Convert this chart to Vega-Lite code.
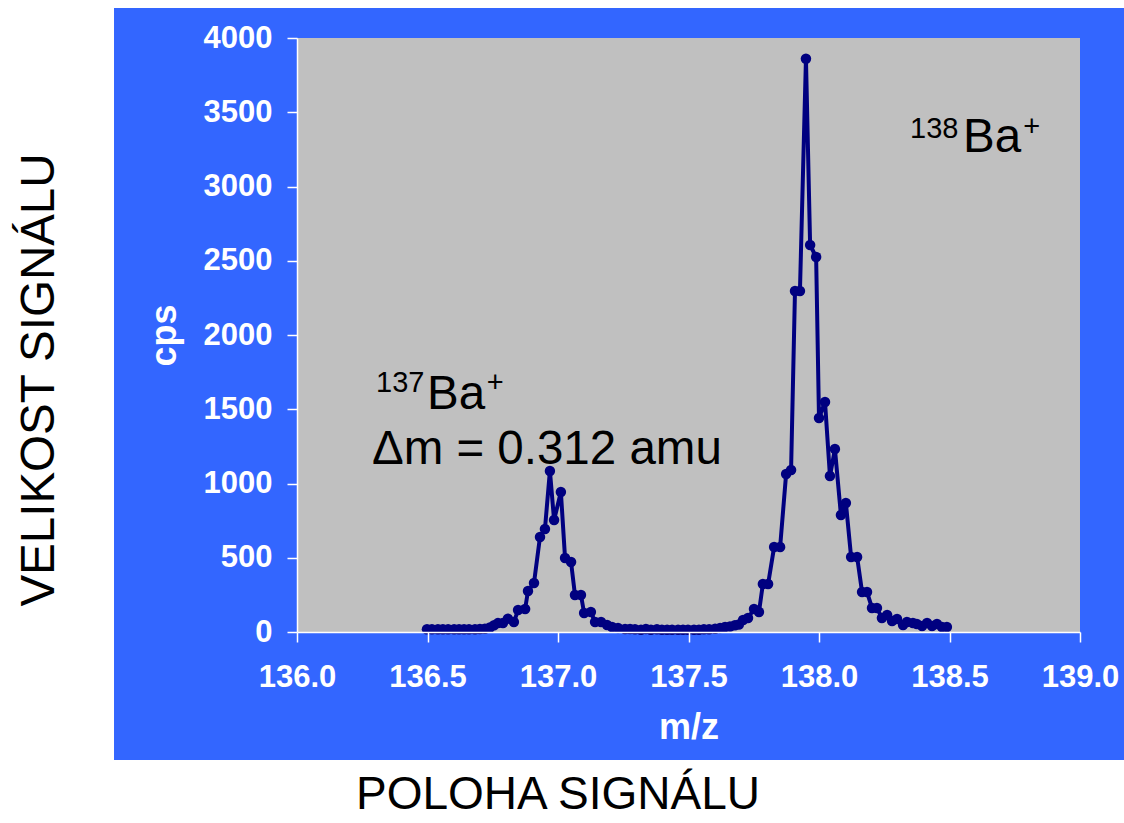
{
  "$schema": "https://vega.github.io/schema/vega-lite/v6.json",
  "width": 783,
  "height": 594,
  "autosize": {"type": "none"},
  "padding": {"left": 297, "top": 38, "right": 44, "bottom": 191},
  "background": "white",
  "config": {
    "view": {"stroke": null},
    "font": "Liberation Sans",
    "axis": {
      "domainColor": "white",
      "domainWidth": 1.5,
      "tickColor": "white",
      "tickWidth": 1.5,
      "tickSize": 10,
      "grid": false,
      "labelColor": "white",
      "labelFont": "Liberation Sans",
      "labelFontWeight": "bold",
      "labelFontSize": 31,
      "titleColor": "white",
      "titleFont": "Liberation Sans",
      "titleFontWeight": "bold",
      "titleFontSize": 36
    },
    "axisX": {"labelPadding": 20, "titlePadding": 18, "labelFlush": false},
    "axisY": {"labelPadding": 15, "titlePadding": 20, "labelFlush": false}
  },
  "datasets": {
    "blue": [{"x0": 135.2989, "x1": 139.1686, "y0": -862, "y1": 4202}],
    "grey": [{"x0": 136, "x1": 139, "y0": 0, "y1": 4000}],
    "big": [
      {"label": "Ba", "mz": 136.498, "cps": 1596},
      {"label": "Ba", "mz": 138.552, "cps": 3327},
      {"label": "Δm = 0.312 amu", "mz": 136.287, "cps": 1226}
    ],
    "sup": [
      {"label": "137", "mz": 136.303, "cps": 1680},
      {"label": "+", "mz": 136.727, "cps": 1680},
      {"label": "138", "mz": 138.349, "cps": 3390},
      {"label": "+", "mz": 138.783, "cps": 3400}
    ],
    "outerV": [{"label": "VELIKOST SIGNÁLU", "mz": 135.015, "cps": 1697}],
    "outerH": [{"label": "POLOHA SIGNÁLU", "mz": 137.0, "cps": -1100}],
    "scan": [
      {"mz": 136.498, "cps": 18}, {"mz": 136.517, "cps": 18}, {"mz": 136.540, "cps": 18},
      {"mz": 136.559, "cps": 18}, {"mz": 136.579, "cps": 18}, {"mz": 136.602, "cps": 18},
      {"mz": 136.621, "cps": 18}, {"mz": 136.640, "cps": 18}, {"mz": 136.659, "cps": 18},
      {"mz": 136.682, "cps": 18}, {"mz": 136.701, "cps": 20}, {"mz": 136.720, "cps": 22},
      {"mz": 136.739, "cps": 30}, {"mz": 136.755, "cps": 45}, {"mz": 136.770, "cps": 60},
      {"mz": 136.789, "cps": 60}, {"mz": 136.808, "cps": 90}, {"mz": 136.831, "cps": 67},
      {"mz": 136.847, "cps": 148}, {"mz": 136.874, "cps": 155}, {"mz": 136.885, "cps": 276},
      {"mz": 136.908, "cps": 330}, {"mz": 136.931, "cps": 640}, {"mz": 136.950, "cps": 694},
      {"mz": 136.969, "cps": 1084}, {"mz": 136.985, "cps": 754}, {"mz": 137.011, "cps": 943},
      {"mz": 137.027, "cps": 498}, {"mz": 137.050, "cps": 471}, {"mz": 137.065, "cps": 249},
      {"mz": 137.088, "cps": 249}, {"mz": 137.100, "cps": 128}, {"mz": 137.126, "cps": 135},
      {"mz": 137.142, "cps": 67}, {"mz": 137.165, "cps": 67}, {"mz": 137.188, "cps": 47},
      {"mz": 137.207, "cps": 34}, {"mz": 137.230, "cps": 27}, {"mz": 137.257, "cps": 20},
      {"mz": 137.276, "cps": 20}, {"mz": 137.295, "cps": 18}, {"mz": 137.318, "cps": 15},
      {"mz": 137.337, "cps": 20}, {"mz": 137.356, "cps": 15}, {"mz": 137.379, "cps": 18},
      {"mz": 137.398, "cps": 15}, {"mz": 137.418, "cps": 15}, {"mz": 137.437, "cps": 15},
      {"mz": 137.460, "cps": 15}, {"mz": 137.479, "cps": 15}, {"mz": 137.498, "cps": 15},
      {"mz": 137.521, "cps": 15}, {"mz": 137.540, "cps": 15}, {"mz": 137.559, "cps": 18},
      {"mz": 137.579, "cps": 18}, {"mz": 137.602, "cps": 22}, {"mz": 137.621, "cps": 27},
      {"mz": 137.640, "cps": 34}, {"mz": 137.659, "cps": 37}, {"mz": 137.678, "cps": 45},
      {"mz": 137.693, "cps": 50}, {"mz": 137.709, "cps": 81}, {"mz": 137.728, "cps": 94},
      {"mz": 137.751, "cps": 155}, {"mz": 137.770, "cps": 135}, {"mz": 137.785, "cps": 323},
      {"mz": 137.805, "cps": 323}, {"mz": 137.828, "cps": 572}, {"mz": 137.851, "cps": 572},
      {"mz": 137.874, "cps": 1064}, {"mz": 137.893, "cps": 1091}, {"mz": 137.908, "cps": 2296},
      {"mz": 137.927, "cps": 2296}, {"mz": 137.950, "cps": 3860}, {"mz": 137.966, "cps": 2606},
      {"mz": 137.989, "cps": 2525}, {"mz": 138.000, "cps": 1441}, {"mz": 138.023, "cps": 1549},
      {"mz": 138.042, "cps": 1050}, {"mz": 138.061, "cps": 1232}, {"mz": 138.084, "cps": 788},
      {"mz": 138.103, "cps": 869}, {"mz": 138.123, "cps": 505}, {"mz": 138.146, "cps": 505},
      {"mz": 138.165, "cps": 269}, {"mz": 138.184, "cps": 269}, {"mz": 138.203, "cps": 162},
      {"mz": 138.222, "cps": 162}, {"mz": 138.241, "cps": 94}, {"mz": 138.261, "cps": 114},
      {"mz": 138.280, "cps": 74}, {"mz": 138.299, "cps": 88}, {"mz": 138.322, "cps": 47},
      {"mz": 138.337, "cps": 67}, {"mz": 138.360, "cps": 61}, {"mz": 138.375, "cps": 54},
      {"mz": 138.395, "cps": 40}, {"mz": 138.414, "cps": 61}, {"mz": 138.433, "cps": 40},
      {"mz": 138.452, "cps": 54}, {"mz": 138.471, "cps": 34}, {"mz": 138.490, "cps": 34}
    ]
  },
  "layer": [
    {
      "data": {"name": "blue"},
      "mark": {"type": "rect", "color": "#3366FF", "clip": false},
      "encoding": {
        "x": {"field": "x0", "type": "quantitative", "title": "m/z",
              "scale": {"domain": [136, 139], "nice": false, "zero": false},
              "axis": {"zindex": 2, "values": [136, 136.5, 137, 137.5, 138, 138.5, 139], "format": ".1f"}},
        "x2": {"field": "x1"},
        "y": {"field": "y0", "type": "quantitative", "title": "cps",
              "scale": {"domain": [0, 4000], "nice": false},
              "axis": {"zindex": 2, "values": [0, 500, 1000, 1500, 2000, 2500, 3000, 3500, 4000], "format": "d"}},
        "y2": {"field": "y1"}
      }
    },
    {
      "data": {"name": "grey"},
      "mark": {"type": "rect", "color": "#C0C0C0"},
      "encoding": {
        "x": {"field": "x0", "type": "quantitative", "title": "m/z"},
        "x2": {"field": "x1"},
        "y": {"field": "y0", "type": "quantitative", "title": "cps"},
        "y2": {"field": "y1"}
      }
    },
    {
      "data": {"name": "big"},
      "mark": {"type": "text", "align": "left", "baseline": "middle", "fontSize": 47.5, "font": "Liberation Sans", "color": "black"},
      "encoding": {
        "x": {"field": "mz", "type": "quantitative", "title": "m/z"},
        "y": {"field": "cps", "type": "quantitative", "title": "cps"},
        "text": {"field": "label"}
      }
    },
    {
      "data": {"name": "sup"},
      "mark": {"type": "text", "align": "left", "baseline": "middle", "fontSize": 29, "font": "Liberation Sans", "color": "black"},
      "encoding": {
        "x": {"field": "mz", "type": "quantitative", "title": "m/z"},
        "y": {"field": "cps", "type": "quantitative", "title": "cps"},
        "text": {"field": "label"}
      }
    },
    {
      "data": {"name": "outerV"},
      "mark": {"type": "text", "align": "center", "baseline": "middle", "angle": 270, "fontSize": 47.5, "font": "Liberation Sans", "color": "black", "clip": false},
      "encoding": {
        "x": {"field": "mz", "type": "quantitative", "title": "m/z"},
        "y": {"field": "cps", "type": "quantitative", "title": "cps"},
        "text": {"field": "label"}
      }
    },
    {
      "data": {"name": "outerH"},
      "mark": {"type": "text", "align": "center", "baseline": "middle", "fontSize": 46, "font": "Liberation Sans", "color": "black", "clip": false},
      "encoding": {
        "x": {"field": "mz", "type": "quantitative", "title": "m/z"},
        "y": {"field": "cps", "type": "quantitative", "title": "cps"},
        "text": {"field": "label"}
      }
    },
    {
      "data": {"name": "scan"},
      "mark": {"type": "line", "color": "#000080", "strokeWidth": 4,
               "point": {"filled": true, "size": 110, "color": "#000080"}},
      "encoding": {
        "x": {"field": "mz", "type": "quantitative", "title": "m/z"},
        "y": {"field": "cps", "type": "quantitative", "title": "cps"}
      }
    }
  ]
}
